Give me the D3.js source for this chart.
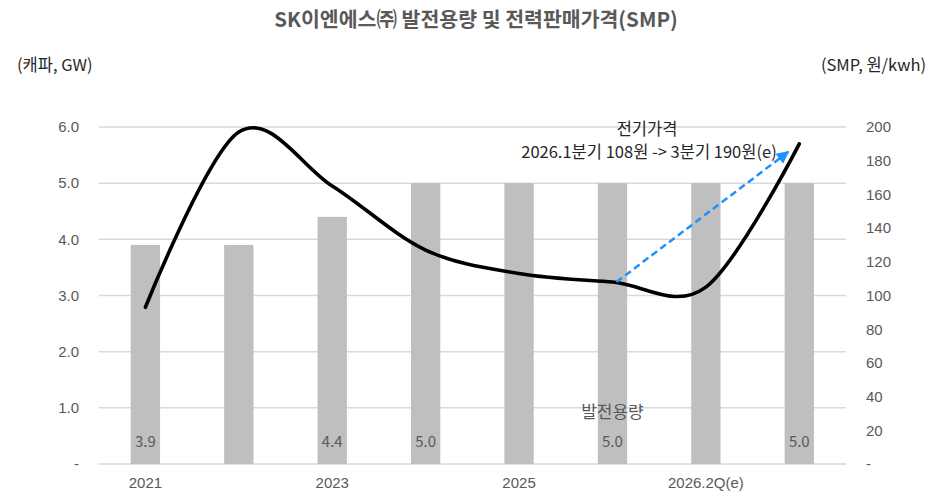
<!DOCTYPE html>
<html>
<head>
<meta charset="utf-8">
<script src="https://cdn.jsdelivr.net/npm/d3@7"></script>
<style>
  html, body { margin: 0; padding: 0; background: #fff; }
  svg { display: block; font-family: "Noto Sans CJK KR", "Noto Sans", sans-serif; }
</style>
</head>
<body>
<svg id="chart" width="948" height="496"></svg>
<script>
// ---- data ----
const categories = ["2021", "2022", "2023", "2024", "2025", "2026.1Q", "2026.2Q(e)", "2026.3Q(e)"];
const xTickLabels = ["2021", "", "2023", "", "2025", "", "2026.2Q(e)", ""];
const capacityGW = [3.9, 3.9, 4.4, 5.0, 5.0, 5.0, 5.0, 5.0];
const capacityLabels = ["3.9", "", "4.4", "5.0", "", "5.0", "", "5.0"];
const smpWon = [93, 197, 165, 127, 113, 108, 105, 190];
const leftTicks = [0, 1, 2, 3, 4, 5, 6];
const rightTicks = [0, 20, 40, 60, 80, 100, 120, 140, 160, 180, 200];

const title = "SK이엔에스㈜ 발전용량 및 전력판매가격(SMP)";
const leftTitle = "(캐파, GW)";
const rightTitle = "(SMP, 원/kwh)";
const annoTitle = "전기가격";
const annoText = "2026.1분기 108원 -> 3분기 190원(e)";
const barSeriesName = "발전용량";

// ---- layout ----
const svg = d3.select("#chart");
const pLeft = 98.7, pRight = 846, pTop = 127, pBottom = 464;

const x = d3.scaleBand().domain(categories).range([pLeft, pRight])
  .paddingInner(0.686).paddingOuter(0.343);
const yL = d3.scaleLinear().domain([0, 6]).range([pBottom, pTop]);
const yR = d3.scaleLinear().domain([0, 200]).range([pBottom, pTop]);

const textCol = "#595959";
const darkCol = "#262626";

// gridlines
svg.append("g").selectAll("line").data(leftTicks).join("line")
  .attr("x1", pLeft).attr("x2", pRight)
  .attr("y1", d => yL(d)).attr("y2", d => yL(d))
  .attr("stroke", "#d9d9d9").attr("stroke-width", 1.5);

// left axis labels
const axL = d3.axisLeft(yL).tickValues(leftTicks)
  .tickFormat(d => d === 0 ? "-" : d3.format(".1f")(d)).tickSize(0).tickPadding(0);
const gL = svg.append("g").attr("transform", `translate(79,0)`).call(axL);
gL.select(".domain").remove();
gL.selectAll("text").attr("fill", textCol).attr("font-size", 15).attr("font-family", null);

// right axis labels
const axR = d3.axisRight(yR).tickValues(rightTicks)
  .tickFormat(d => d === 0 ? "-" : d).tickSize(0).tickPadding(0);
const gR = svg.append("g").attr("transform", `translate(866,0)`).call(axR);
gR.select(".domain").remove();
gR.selectAll("text").attr("fill", textCol).attr("font-size", 15).attr("font-family", null);

// bottom axis labels
const axB = d3.axisBottom(x).tickFormat((d, i) => xTickLabels[i]).tickSize(0).tickPadding(0);
const gB = svg.append("g").attr("transform", `translate(0,477)`).call(axB);
gB.select(".domain").remove();
gB.selectAll("text").attr("fill", textCol).attr("font-size", 15).attr("font-family", null);

// bars
svg.append("g").selectAll("rect").data(capacityGW).join("rect")
  .attr("x", (d, i) => x(categories[i]))
  .attr("width", x.bandwidth())
  .attr("y", d => yL(d))
  .attr("height", d => yL(0) - yL(d))
  .attr("fill", "#bfbfbf");

// bar labels
svg.append("g").selectAll("text").data(capacityLabels).join("text")
  .attr("x", (d, i) => x(categories[i]) + x.bandwidth() / 2)
  .attr("y", 440)
  .attr("text-anchor", "middle").attr("dominant-baseline", "central")
  .attr("fill", textCol).attr("font-size", 15)
  .text(d => d);

// series name label
svg.append("text").attr("x", x(categories[5]) + x.bandwidth() / 2).attr("y", 410)
  .attr("text-anchor", "middle").attr("dominant-baseline", "central")
  .attr("fill", textCol).attr("font-size", 17).text(barSeriesName);

// SMP line
const line = d3.line()
  .x((d, i) => x(categories[i]) + x.bandwidth() / 2)
  .y(d => yR(d))
  .curve(d3.curveCardinal.tension(0));
svg.append("path").datum(smpWon).attr("d", line)
  .attr("fill", "none").attr("stroke", "#000").attr("stroke-width", 3.6)
  .attr("stroke-linecap", "round").attr("stroke-linejoin", "round");

// annotation arrow
const defs = svg.append("defs");
defs.append("marker").attr("id", "arrow").attr("viewBox", "0 0 10 10")
  .attr("refX", 9).attr("refY", 5).attr("markerWidth", 6).attr("markerHeight", 5)
  .attr("markerUnits", "strokeWidth").attr("orient", "auto")
  .append("path").attr("d", "M0,0 L10,5 L0,10 Z").attr("fill", "#1e90ff");

const ax1 = x(categories[5]) + x.bandwidth() / 2 + 4, ay1 = yR(smpWon[5]);
const ax2 = x(categories[7]) + x.bandwidth() / 2 - 11, ay2 = yR(smpWon[7]) + 8;
svg.append("line").attr("x1", ax1).attr("y1", ay1).attr("x2", ax2).attr("y2", ay2)
  .attr("stroke", "#1e90ff").attr("stroke-width", 2.5)
  .attr("stroke-dasharray", "7,4").attr("marker-end", "url(#arrow)");

// annotation text
svg.append("text").attr("x", 647).attr("y", 128)
  .attr("text-anchor", "middle").attr("dominant-baseline", "central")
  .attr("fill", darkCol).attr("font-size", 16.5).text(annoTitle);
svg.append("text").attr("x", 649).attr("y", 151)
  .attr("text-anchor", "middle").attr("dominant-baseline", "central")
  .attr("fill", darkCol).attr("font-size", 16.5).text(annoText);

// titles
svg.append("text").attr("x", 476).attr("y", 18)
  .attr("text-anchor", "middle").attr("dominant-baseline", "central")
  .attr("fill", textCol).attr("font-size", 20.5).attr("font-weight", "bold").text(title);
svg.append("text").attr("x", 17).attr("y", 64)
  .attr("dominant-baseline", "central")
  .attr("fill", darkCol).attr("font-size", 16.5).text(leftTitle);
svg.append("text").attr("x", 926).attr("y", 64)
  .attr("text-anchor", "end").attr("dominant-baseline", "central")
  .attr("fill", darkCol).attr("font-size", 16.5).text(rightTitle);
</script>
</body>
</html>
